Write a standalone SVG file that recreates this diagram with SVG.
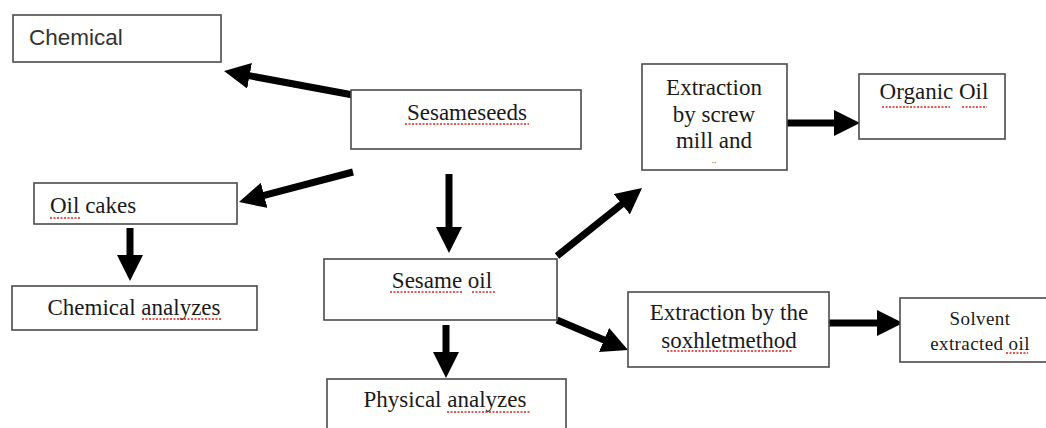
<svg xmlns="http://www.w3.org/2000/svg" width="1046" height="428" viewBox="0 0 1046 428">
<style>
.box{fill:#fff;stroke:#4a4a4a;stroke-width:1.6}
.t{font-family:"Liberation Serif","Times New Roman",serif;font-size:23px;fill:#1a1a1a}
.s{font-family:"Liberation Sans",Arial,sans-serif;font-size:22.5px;fill:#333}
.c{text-anchor:middle}
.sq{stroke:#e0201c;stroke-width:1.3;stroke-dasharray:2 1.5;fill:none}
.ar{stroke:#000;stroke-width:7;fill:none;marker-end:url(#ah)}
</style>
<defs>
<marker id="ah" markerUnits="userSpaceOnUse" markerWidth="26" markerHeight="26" viewBox="0 0 26 26" refX="2" refY="13" orient="auto">
<path d="M0,0 L26,13 L0,26 z" fill="#000"/>
</marker>
</defs>
<rect width="1046" height="428" fill="#fff"/>
<g id="connectors">
<line class="ar" x1="353" y1="95" x2="247.6" y2="75.4"/>
<line class="ar" x1="353" y1="172" x2="262.2" y2="195.9"/>
<line class="ar" x1="130" y1="228" x2="130" y2="257"/>
<line class="ar" x1="449" y1="174" x2="449" y2="229"/>
<line class="ar" x1="446" y1="325" x2="446" y2="354"/>
<line class="ar" x1="557" y1="256" x2="623.3" y2="203"/>
<line class="ar" x1="557" y1="320" x2="605.9" y2="340.7"/>
<line class="ar" x1="787" y1="123" x2="836" y2="123"/>
<line class="ar" x1="829" y1="323" x2="879" y2="323"/>
</g>
<g id="chemical">
<rect class="box" x="13" y="15" width="208" height="47"/>
<text class="s" x="29" y="45">Chemical</text>
</g>
<g id="sesameseeds">
<rect class="box" x="351" y="90" width="230" height="59"/>
<text class="t c" x="467" y="120">Sesameseeds</text>
<path class="sq" d="M405,124 H529"/>
</g>
<g id="oilcakes">
<rect class="box" x="34" y="183" width="203" height="41"/>
<text class="t" x="50" y="213">Oil cakes</text>
<path class="sq" d="M50,218 H80"/>
</g>
<g id="chemical-analyzes">
<rect class="box" x="12" y="286" width="245" height="44"/>
<text class="t c" x="134" y="315">Chemical analyzes</text>
<path class="sq" d="M142,319 H222"/>
</g>
<g id="sesame-oil">
<rect class="box" x="324" y="259" width="233" height="61"/>
<text class="t c" x="442" y="288">Sesame oil</text>
<path class="sq" d="M390,292 H462 M472,292 H495"/>
</g>
<g id="physical-analyzes">
<rect class="box" x="327" y="379" width="239" height="60"/>
<text class="t c" x="445" y="407">Physical analyzes</text>
<path class="sq" d="M447,412 H531"/>
</g>
<g id="screw">
<rect class="box" x="642" y="64" width="145" height="106"/>
<text class="t c" x="714" y="95">Extraction</text>
<text class="t c" x="714" y="122">by screw</text>
<text class="t c" x="714" y="148">mill and</text>
<text class="t c" x="714" y="163" style="font-size:9px">..</text>
</g>
<g id="organic-oil">
<rect class="box" x="859" y="74" width="146" height="65"/>
<text class="t c" x="934" y="99">Organic Oil</text>
<path class="sq" d="M882,107 H950 M962,107 H987"/>
</g>
<g id="soxhlet">
<rect class="box" x="628" y="292" width="201" height="75"/>
<text class="t c" x="729" y="320">Extraction by the</text>
<text class="t c" x="729" y="348">soxhletmethod</text>
<path class="sq" d="M667,351 H793"/>
</g>
<g id="solvent">
<rect class="box" x="900" y="298" width="150" height="64"/>
<text class="t c" x="980" y="325" style="font-size:19px;letter-spacing:0.4px">Solvent</text>
<text class="t c" x="980" y="350" style="font-size:19px;letter-spacing:0.4px">extracted oil</text>
<path class="sq" d="M1006,353 H1028"/>
</g>
</svg>
